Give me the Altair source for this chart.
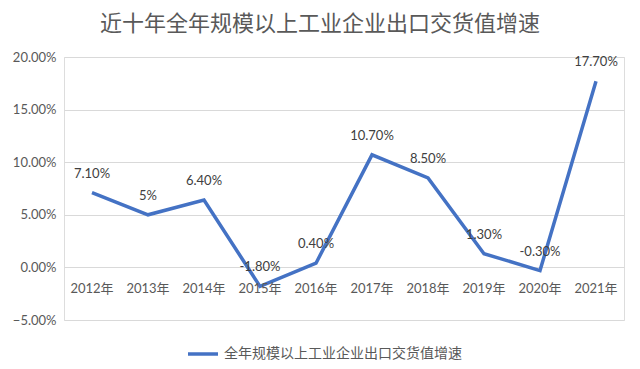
import altair as alt
import pandas as pd

years = ["2012年", "2013年", "2014年", "2015年", "2016年", "2017年", "2018年", "2019年", "2020年", "2021年"]
growth_pct = [7.1, 5.0, 6.4, -1.8, 0.4, 10.7, 8.5, 1.3, -0.3, 17.7]
point_labels = ["7.10%", "5%", "6.40%", "-1.80%", "0.40%", "10.70%", "8.50%", "1.30%", "-0.30%", "17.70%"]
y_ticks = [-0.05, 0.0, 0.05, 0.10, 0.15, 0.20]
series_name = "全年规模以上工业企业出口交货值增速"
title_text = "近十年全年规模以上工业企业出口交货值增速"

df = pd.DataFrame({
    "year": years,
    "value": [v / 100 for v in growth_pct],
    "label": point_labels,
    "series": [series_name] * len(years),
})

FONT = "Lato, Noto Sans CJK SC, sans-serif"
GREY = "#595959"
BLUE = "#4472C4"

x = alt.X("year:N", sort=years, scale=alt.Scale(paddingInner=0, paddingOuter=0), axis=None)
y = alt.Y("value:Q", scale=alt.Scale(domain=[-0.05, 0.20], nice=False),
          axis=alt.Axis(values=y_ticks, format=".2%", title=None, domain=False, ticks=False,
                        labelPadding=8, labelFontSize=13, labelColor=GREY, labelFont=FONT,
                        gridColor="#D9D9D9", gridWidth=1))

base = alt.Chart(df)

line = base.mark_line(strokeWidth=3.5, strokeJoin="miter").encode(
    x=x, y=y,
    color=alt.Color("series:N", scale=alt.Scale(domain=[series_name], range=[BLUE]),
                    legend=alt.Legend(title=None, orient="none", legendX=122, legendY=280,
                                      symbolType="stroke", symbolSize=900, symbolStrokeWidth=3.5,
                                      labelFontSize=14, labelColor=GREY, labelFont=FONT,
                                      labelOffset=4, labelLimit=400)),
)

labels = base.mark_text(dy=-19, fontSize=13, color="#404040", font=FONT).encode(
    x=x, y=alt.Y("value:Q"), text="label:N"
)

xlabels = base.mark_text(dy=22, fontSize=13, color=GREY, font=FONT).encode(
    x=x, y=alt.datum(0), text="year:N"
)

chart = alt.layer(line, labels, xlabels).properties(
    width=560, height=263,
    autosize=alt.AutoSizeParams(type="none"),
    padding={"left": 56, "top": 49, "right": 8, "bottom": 41},
    title=alt.TitleParams(title_text, fontSize=22, color=GREY, font=FONT, fontWeight="normal",
                          anchor="middle", dx=-24, offset=15),
).configure_view(stroke=None).configure(background="white")

chart.save("out.html", embed_options={"renderer": "svg", "actions": False})
